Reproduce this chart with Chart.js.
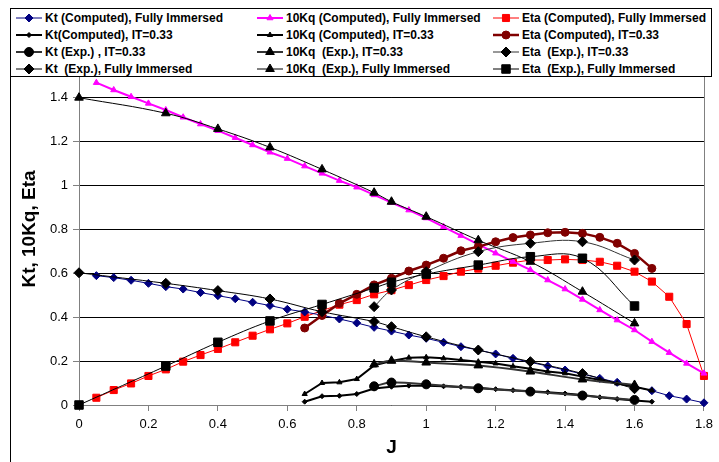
<!DOCTYPE html>
<html>
<head>
<meta charset="utf-8">
<script src="https://cdn.jsdelivr.net/npm/chart.js@4.4.1/dist/chart.umd.min.js"></script>
<style>
  html, body { margin: 0; padding: 0; background: #fff; }
  #wrap { position: relative; width: 719px; height: 462px; overflow: hidden; }
  #c { position: absolute; left: 0; top: 0; }
  #frame { position: absolute; left: 10px; top: 8px; width: 0; height: 470px; border-left: 1px solid #000; }
  #legend { position: absolute; left: 10px; top: 8px; width: 700px; height: 67px; border: 1px solid #000;
            background: #fff; font: bold 12px "Liberation Sans", Arial, sans-serif; color: #000; }
  .item { position: absolute; height: 16px; display: flex; align-items: center; white-space: nowrap; }
  .item canvas { display: block; margin-right: 2px; }
</style>
</head>
<body>
<div id="wrap">
  <canvas id="c" width="719" height="462"></canvas>
  <div id="frame"></div>
  <div id="legend"></div>
</div>
<script>
// Advance coefficient J for each set of measurements / predictions
const jComputedFI = [0.05, 0.1, 0.15, 0.2, 0.25, 0.3, 0.35, 0.4, 0.45, 0.5, 0.55, 0.6,
                     0.65, 0.7, 0.75, 0.8, 0.85, 0.9, 0.95, 1.0, 1.05, 1.1, 1.15, 1.2,
                     1.25, 1.3, 1.35, 1.4, 1.45, 1.5, 1.55, 1.6, 1.65, 1.7, 1.75, 1.8];
const jComputedIT = [0.65, 0.7, 0.75, 0.8, 0.85, 0.9, 0.95, 1.0, 1.05, 1.1, 1.15,
                     1.2, 1.25, 1.3, 1.35, 1.4, 1.45, 1.5, 1.55, 1.6, 1.65];
const jExpIT = [0.85, 0.9, 1.0, 1.15, 1.3, 1.45, 1.6];
const jExpFI = [0, 0.25, 0.4, 0.55, 0.7, 0.85, 0.9, 1.0, 1.15, 1.3, 1.45, 1.6];

// Computed, fully immersed
const ktComputedFI = [0.588, 0.579, 0.567, 0.553, 0.538, 0.527, 0.511, 0.497, 0.483, 0.467, 0.452, 0.435,
                      0.423, 0.408, 0.391, 0.373, 0.353, 0.336, 0.318, 0.303, 0.285, 0.265, 0.25, 0.232,
                      0.212, 0.194, 0.177, 0.159, 0.141, 0.121, 0.103, 0.083, 0.065, 0.042, 0.027, 0.01];
const kq10ComputedFI = [1.465, 1.432, 1.401, 1.371, 1.341, 1.308, 1.277, 1.247, 1.215, 1.182, 1.149, 1.12,
                        1.086, 1.053, 1.02, 0.99, 0.955, 0.92, 0.886, 0.85, 0.81, 0.77, 0.73, 0.69,
                        0.652, 0.614, 0.568, 0.527, 0.48, 0.432, 0.386, 0.341, 0.288, 0.238, 0.189, 0.144];
const etaComputedFI = [0.033, 0.068, 0.098, 0.132, 0.162, 0.197, 0.227, 0.255, 0.285, 0.315, 0.344, 0.371,
                       0.401, 0.429, 0.456, 0.477, 0.503, 0.522, 0.545, 0.568, 0.586, 0.606, 0.62, 0.633,
                       0.647, 0.659, 0.659, 0.662, 0.659, 0.651, 0.633, 0.606, 0.561, 0.492, 0.368, 0.132];

// Computed, immersion IT = 0.33
const ktComputedIT = [0.015, 0.04, 0.042, 0.05, 0.075, 0.083, 0.088, 0.088, 0.085, 0.082, 0.078,
                      0.072, 0.067, 0.062, 0.058, 0.052, 0.045, 0.035, 0.027, 0.021, 0.015];
const kq10ComputedIT = [0.05, 0.1, 0.103, 0.118, 0.18, 0.2, 0.215, 0.217, 0.212, 0.205, 0.197,
                        0.189, 0.176, 0.165, 0.152, 0.144, 0.129, 0.114, 0.098, 0.083, 0.066];
const etaComputedIT = [0.35, 0.407, 0.462, 0.503, 0.546, 0.576, 0.609, 0.636, 0.667, 0.701, 0.72,
                       0.742, 0.761, 0.773, 0.783, 0.785, 0.78, 0.762, 0.735, 0.689, 0.621];

// Experiment, immersion IT = 0.33
const ktExpIT = [0.085, 0.102, 0.094, 0.076, 0.061, 0.043, 0.023];
const kq10ExpIT = [0.185, 0.201, 0.193, 0.18, 0.152, 0.116, 0.091];
const etaExpIT = [0.447, 0.523, 0.606, 0.697, 0.735, 0.742, 0.659];

// Experiment, fully immersed
const ktExpFI = [0.601, 0.553, 0.52, 0.482, 0.424, 0.379, 0.356, 0.31, 0.25, 0.197, 0.143, 0.074];
const kq10ExpFI = [1.397, 1.326, 1.255, 1.171, 1.071, 0.965, 0.924, 0.856, 0.749, 0.651, 0.515, 0.371];
const etaExpFI = [0, 0.177, 0.285, 0.382, 0.457, 0.532, 0.558, 0.595, 0.636, 0.674, 0.667, 0.45];

const pts = (xs, ys) => xs.map((x, i) => ({ x: x, y: ys[i] }));

function series(label, xs, ys, color, lineWidth, style, radius, tension, order, lineColor) {
  return {
    label: label,
    data: pts(xs, ys),
    borderColor: lineColor || color,
    backgroundColor: color,
    borderWidth: lineWidth,
    pointStyle: style,
    pointRadius: radius,
    pointHoverRadius: radius,
    pointBackgroundColor: color,
    pointBorderColor: color,
    pointBorderWidth: 1,
    tension: tension,
    order: order,
    clip: false,
    fill: false
  };
}

// Legend order: row by row, three columns
const datasets = [
  series('Kt (Computed), Fully Immersed', jComputedFI, ktComputedFI, '#000080', 1, 'rectRot', 4, 0, 4),
  series('10Kq (Computed), Fully Immersed', jComputedFI, kq10ComputedFI, '#FF00FF', 2, 'triangle', 3.5, 0, 4),
  series('Eta (Computed), Fully Immersed', jComputedFI, etaComputedFI, '#FF0000', 1, 'rect', 5, 0, 4),
  series('Kt(Computed), IT=0.33', jComputedIT, ktComputedIT, '#000000', 2, 'rectRot', 2.5, 0, 3),
  series('10Kq (Computed), IT=0.33', jComputedIT, kq10ComputedIT, '#000000', 2, 'triangle', 3, 0, 3),
  series('Eta (Computed), IT=0.33', jComputedIT, etaComputedIT, '#800000', 2.5, 'circle', 4, 0, 3),
  series('Kt (Exp.) , IT=0.33', jExpIT, ktExpIT, '#000000', 2, 'circle', 4.5, 0.4, 2, '#333333'),
  series('10Kq  (Exp.), IT=0.33', jExpIT, kq10ExpIT, '#000000', 2, 'triangle', 5, 0.4, 2, '#333333'),
  series('Eta  (Exp.), IT=0.33', jExpIT, etaExpIT, '#000000', 1, 'rectRot', 5, 0.4, 2, '#333333'),
  series('Kt  (Exp.), Fully Immersed', jExpFI, ktExpFI, '#000000', 1, 'rectRot', 5, 0.4, 1),
  series('10Kq  (Exp.), Fully Immersed', jExpFI, kq10ExpFI, '#000000', 1, 'triangle', 5, 0.4, 1),
  series('Eta  (Exp.), Fully Immersed', jExpFI, etaExpFI, '#000000', 1, 'rect', 6, 0.4, 1)
];

const FONT = '"Liberation Sans", Arial, sans-serif';
Chart.defaults.font.family = FONT;
Chart.defaults.color = '#000';

// Right-hand edge of the plot area
const plotEdge = {
  id: 'plotEdge',
  beforeDatasetsDraw(chart) {
    const a = chart.chartArea, ctx = chart.ctx;
    ctx.save();
    ctx.strokeStyle = '#808080';
    ctx.lineWidth = 1;
    ctx.beginPath();
    ctx.moveTo(Math.round(a.right) + 0.5, a.top);
    ctx.lineTo(Math.round(a.right) + 0.5, a.bottom);
    ctx.stroke();
    ctx.restore();
  }
};

const chart = new Chart(document.getElementById('c'), {
  type: 'line',
  data: { datasets: datasets },
  options: {
    responsive: false,
    animation: false,
    devicePixelRatio: 1,
    layout: { padding: { left: 0, right: 14, top: 53, bottom: 0 } },
    plugins: { legend: { display: false }, tooltip: { enabled: false } },
    scales: {
      x: {
        type: 'linear', min: 0, max: 1.8,
        afterFit(s) { s.height = 57; },
        ticks: { stepSize: 0.2, font: { size: 13 }, color: '#000', padding: 6,
                 maxRotation: 0, callback: v => String(Number(v.toFixed(1))) },
        grid: { drawOnChartArea: false, drawTicks: true, tickLength: 6, tickColor: '#808080' },
        border: { color: '#808080', width: 1 },
        title: { display: true, text: 'J', font: { size: 19, weight: 'bold' }, color: '#000',
                 padding: { top: 0, bottom: 3 } }
      },
      y: {
        type: 'linear', min: 0, max: 1.6,
        afterFit(s) { s.width = 79; },
        ticks: { stepSize: 0.2, font: { size: 13 }, color: '#000', padding: 5,
                 callback: v => String(Number(v.toFixed(1))) },
        grid: { color: '#000', lineWidth: 1, drawTicks: true, tickLength: 6, tickColor: '#808080' },
        border: { color: '#808080', width: 1 },
        title: { display: true, text: 'Kt, 10Kq, Eta', font: { size: 19, weight: 'bold' }, color: '#000',
                 padding: { top: 18, bottom: 0 } }
      }
    }
  },
  plugins: [plotEdge]
});

// Legend: three columns, four rows, drawn from the dataset styles
function drawMarker(ctx, style, r, x, y) {
  ctx.beginPath();
  if (style === 'circle') {
    ctx.arc(x, y, r, 0, Math.PI * 2);
  } else if (style === 'triangle') {
    const h = r;
    ctx.moveTo(x, y - h);
    ctx.lineTo(x + h * Math.cos(Math.PI / 6), y + h * 0.5);
    ctx.lineTo(x - h * Math.cos(Math.PI / 6), y + h * 0.5);
    ctx.closePath();
  } else if (style === 'rectRot') {
    ctx.moveTo(x, y - r); ctx.lineTo(x + r, y); ctx.lineTo(x, y + r); ctx.lineTo(x - r, y);
    ctx.closePath();
  } else {
    const s = r * Math.SQRT1_2;
    ctx.rect(x - s, y - s, 2 * s, 2 * s);
  }
  ctx.fill();
  ctx.stroke();
}

const legendEl = document.getElementById('legend');
const colX = [4, 245, 481];
const rowY = [1, 18, 35, 52];
chart.data.datasets.forEach((ds, i) => {
  const item = document.createElement('div');
  item.className = 'item';
  item.style.left = colX[i % 3] + 'px';
  item.style.top = rowY[Math.floor(i / 3)] + 'px';
  const sw = document.createElement('canvas');
  sw.width = 28; sw.height = 16;
  const g = sw.getContext('2d');
  g.strokeStyle = ds.borderColor;
  g.lineWidth = ds.borderWidth;
  g.beginPath(); g.moveTo(1, 8); g.lineTo(27, 8); g.stroke();
  g.fillStyle = ds.pointBackgroundColor;
  g.strokeStyle = ds.pointBorderColor;
  g.lineWidth = 1;
  drawMarker(g, ds.pointStyle, ds.pointRadius, 14, 8);
  const t = document.createElement('span');
  t.textContent = ds.label;
  t.style.whiteSpace = 'pre';
  item.appendChild(sw);
  item.appendChild(t);
  legendEl.appendChild(item);
});
</script>
</body>
</html>
